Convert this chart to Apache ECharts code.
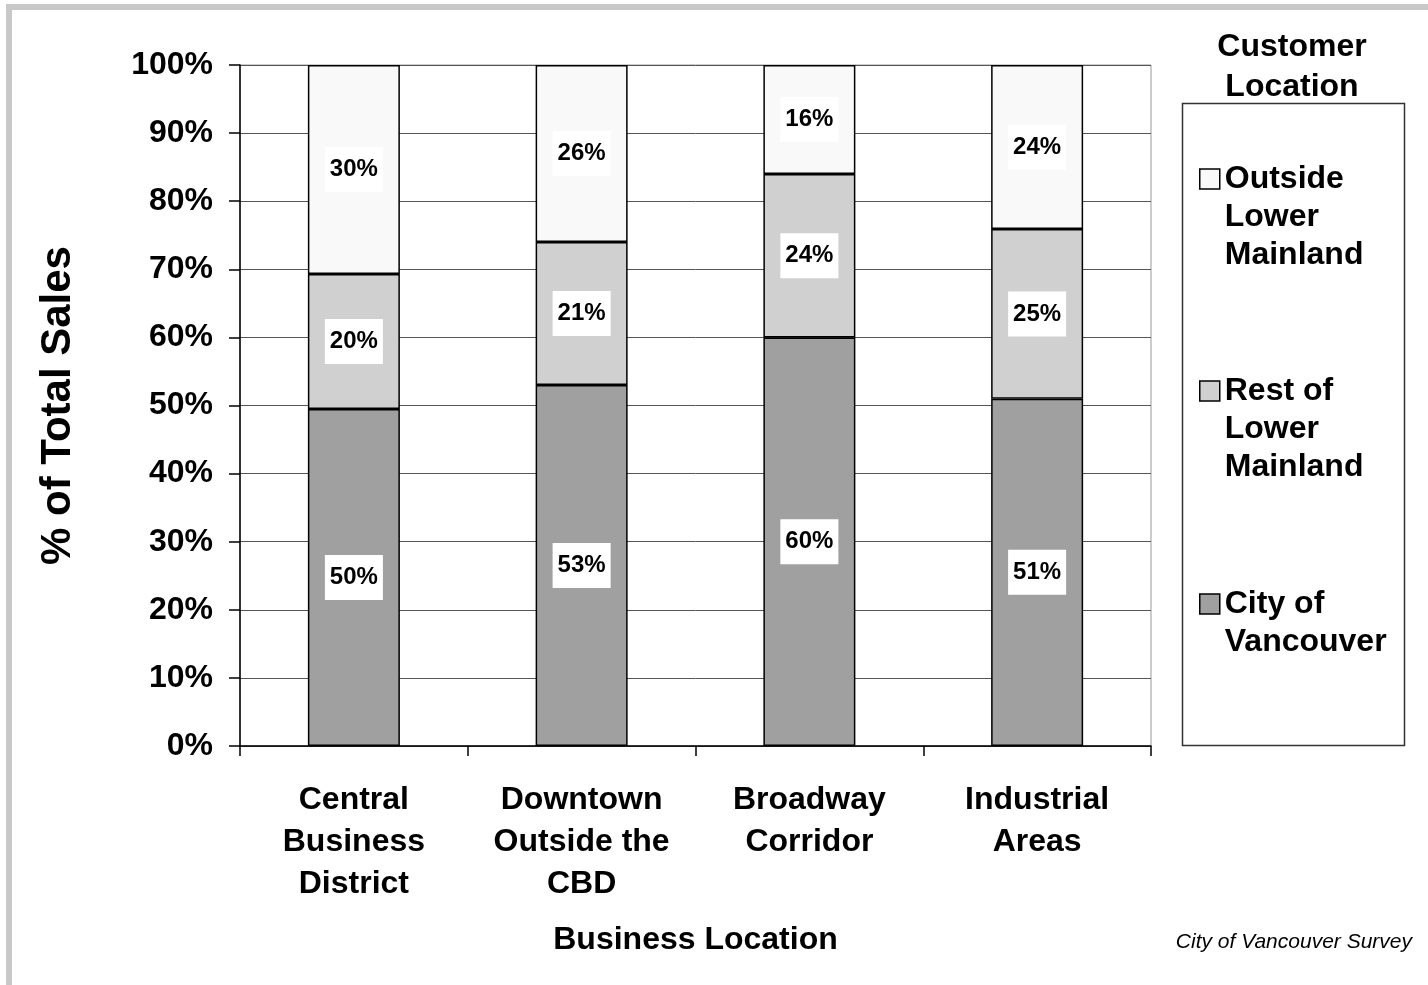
<!DOCTYPE html>
<html>
<head>
<meta charset="utf-8">
<title>Customer Location by Business Location</title>
<script src="https://cdn.jsdelivr.net/npm/echarts@6/dist/echarts.min.js"></script>
<style>
  html, body { margin: 0; padding: 0; background: #fff; }
  #chart { width: 1428px; height: 985px; }
</style>
</head>
<body>
<div id="chart"></div>
<script>
// business locations (x axis)
var categories = [
  'Central\nBusiness\nDistrict',
  'Downtown\nOutside the\nCBD',
  'Broadway\nCorridor',
  'Industrial\nAreas'
]

// % of total sales
var cityOfVancouver = [49.5, 53, 60, 51]
var restOfLowerMainland = [19.8, 21, 24, 24.9]
var outsideLowerMainland = [30.7, 26, 16, 24.1]

// printed segment labels
var cityLabels = ['50%', '53%', '60%', '51%']
var restLabels = ['20%', '21%', '24%', '25%']
var outsideLabels = ['30%', '26%', '16%', '24%']

var FONT = '"Liberation Sans", Arial, sans-serif'

var chart = echarts.init(document.getElementById('chart'))

function segLabel(labels) {
  return {
    show: true,
    position: 'inside',
    formatter: function(p) { return labels[p.dataIndex] },
    backgroundColor: '#fff',
    padding: [11, 5],
    color: '#000',
    fontFamily: FONT,
    fontWeight: 'bold',
    fontSize: 24,
    lineHeight: 23
  }
}

// one legend per entry so each can be placed; blank lines in front keep
// the first text line level with the icon (text is centred on the icon)
function legendFor(name, lines, top) {
  var pad = []
  for (var i = 1; i < lines.length; i++) pad.push('')
  var text = pad.concat(lines).join('\n')
  return {
    show: true,
    selectedMode: false,
    orient: 'vertical',
    left: 1199,
    top: top,
    padding: 0,
    itemWidth: 20,
    itemHeight: 20,
    itemStyle: { borderColor: '#000', borderWidth: 1.5 },
    formatter: function() { return text },
    textStyle: {
      color: '#000',
      fontFamily: FONT,
      fontWeight: 'bold',
      fontSize: 32,
      lineHeight: 38
    },
    data: [{ name: name, icon: 'rect' }]
  }
}

chart.setOption({
  animation: false,
  backgroundColor: '#fff',
  grid: {
    left: 240,
    right: 277,
    top: 65,
    bottom: 239,
    show: true,
    borderColor: '#999',
    borderWidth: 1,
    backgroundColor: 'transparent'
  },
  legend: [
    legendFor('Outside Lower Mainland', ['Outside', 'Lower', 'Mainland'], 84),
    legendFor('Rest of Lower Mainland', ['Rest of', 'Lower', 'Mainland'], 296),
    legendFor('City of Vancouver', ['City of', 'Vancouver'], 547)
  ],
  xAxis: {
    type: 'category',
    data: categories,
    name: 'Business Location',
    nameLocation: 'middle',
    nameGap: 178,
    nameTextStyle: { color: '#000', fontFamily: FONT, fontWeight: 'bold', fontSize: 32 },
    axisLine: { lineStyle: { color: '#000', width: 1.5 } },
    axisTick: { show: true, length: 10, lineStyle: { color: '#000', width: 1.5 } },
    axisLabel: {
      interval: 0,
      margin: 33,
      color: '#000',
      fontFamily: FONT,
      fontWeight: 'bold',
      fontSize: 32,
      lineHeight: 42,
      verticalAlign: 'top'
    }
  },
  yAxis: {
    type: 'value',
    min: 0,
    max: 100,
    interval: 10,
    name: '% of Total Sales',
    nameLocation: 'middle',
    nameGap: 161,
    nameTextStyle: { color: '#000', fontFamily: FONT, fontWeight: 'bold', fontSize: 42 },
    axisLine: { show: true, lineStyle: { color: '#000', width: 1.5 } },
    axisTick: { show: true, length: 11, lineStyle: { color: '#000', width: 1.5 } },
    splitLine: { show: true, lineStyle: { color: '#555', width: 1 } },
    axisLabel: {
      margin: 27,
      formatter: '{value}%',
      color: '#000',
      fontFamily: FONT,
      fontWeight: 'bold',
      fontSize: 32
    }
  },
  series: [
    {
      name: 'City of Vancouver',
      type: 'bar',
      stack: 'total',
      barWidth: 92,
      data: cityOfVancouver,
      itemStyle: { color: '#a0a0a0', borderColor: '#000', borderWidth: 1.5 },
      label: segLabel(cityLabels)
    },
    {
      name: 'Rest of Lower Mainland',
      type: 'bar',
      stack: 'total',
      barWidth: 92,
      data: restOfLowerMainland,
      itemStyle: { color: '#d0d0d0', borderColor: '#000', borderWidth: 1.5 },
      label: segLabel(restLabels)
    },
    {
      name: 'Outside Lower Mainland',
      type: 'bar',
      stack: 'total',
      barWidth: 92,
      data: outsideLowerMainland,
      itemStyle: { color: '#f9f9f9', borderColor: '#000', borderWidth: 1.5 },
      label: segLabel(outsideLabels)
    }
  ],
  graphic: [
    {
      // grey outer frame
      type: 'rect',
      silent: true,
      z: -10,
      shape: { x: 9, y: 7, width: 1600, height: 1200 },
      style: { fill: 'none', stroke: '#c8c8c8', lineWidth: 6 }
    },
    {
      // legend box
      type: 'rect',
      silent: true,
      z: -5,
      shape: { x: 1182.5, y: 103.5, width: 222, height: 642 },
      style: { fill: '#fff', stroke: '#333', lineWidth: 1.5 }
    },
    {
      type: 'text',
      silent: true,
      x: 1292,
      y: 27,
      style: {
        text: 'Customer\nLocation',
        align: 'center',
        verticalAlign: 'top',
        fill: '#000',
        fontFamily: FONT,
        fontWeight: 'bold',
        fontSize: 32,
        lineHeight: 40
      }
    },
    {
      type: 'text',
      silent: true,
      x: 1412,
      y: 942,
      style: {
        text: 'City of Vancouver Survey',
        align: 'right',
        verticalAlign: 'middle',
        fill: '#000',
        fontFamily: FONT,
        fontStyle: 'italic',
        fontSize: 21
      }
    }
  ]
})
</script>
</body>
</html>
